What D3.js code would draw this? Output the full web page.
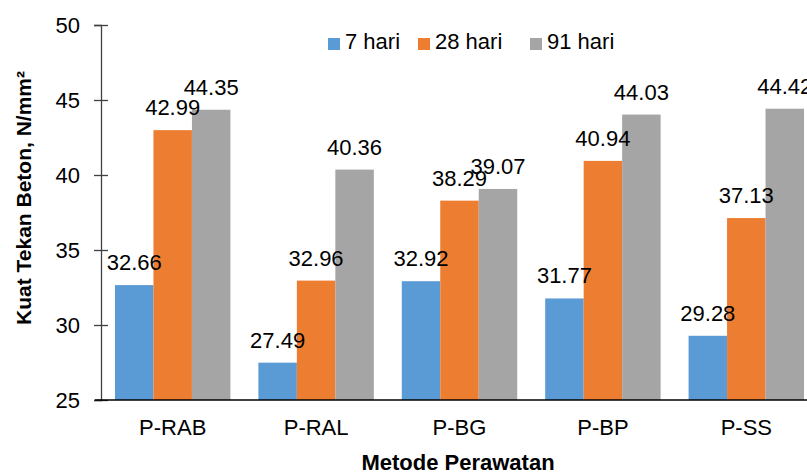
<!DOCTYPE html>
<html>
<head>
<meta charset="utf-8">
<script src="https://cdn.jsdelivr.net/npm/d3@7"></script>
<style>
  body { margin: 0; background: #fff; }
  svg { display: block; font-family: Arial, 'Liberation Sans', sans-serif; }
</style>
</head>
<body>
<svg width="807" height="473"></svg>
<script>
const categories = ['P-RAB', 'P-RAL', 'P-BG', 'P-BP', 'P-SS']
const seriesNames = ['7 hari', '28 hari', '91 hari']
const hari7 = [32.66, 27.49, 32.92, 31.77, 29.28]
const hari28 = [42.99, 32.96, 38.29, 40.94, 37.13]
const hari91 = [44.35, 40.36, 39.07, 44.03, 44.42]
const yTicks = [25, 30, 35, 40, 45, 50]
const colors = ['#5B9BD5', '#ED7D31', '#A5A5A5']

const seriesValues = [hari7, hari28, hari91]
const data = categories.map((c, i) => ({
	cat: c,
	vals: seriesNames.map((s, j) => ({ name: s, v: seriesValues[j][i], k: j }))
}))

const svg = d3.select('svg')

let xScale = d3.scaleBand()
	.domain(categories)
	.range([101, 818])
	.paddingInner(0.195)
	.paddingOuter(0.0975)

let xInner = d3.scaleBand()
	.domain(seriesNames)
	.range([0, xScale.bandwidth()])

let yScale = d3.scaleLinear()
	.domain([25, 50])
	.range([400, 25])

// bars
let groups = svg.append('g').attr('id', 'bars')
	.selectAll('g')
	.data(data)
	.enter().append('g')
	.attr('transform', d => `translate(${xScale(d.cat)},0)`)

groups.selectAll('rect')
	.data(d => d.vals)
	.enter().append('rect')
	.attr('x', d => xInner(d.name))
	.attr('width', xInner.bandwidth())
	.attr('y', d => yScale(d.v))
	.attr('height', d => yScale(25) - yScale(d.v))
	.attr('fill', d => colors[d.k])

// value labels
groups.selectAll('text')
	.data(d => d.vals)
	.enter().append('text')
	.attr('x', d => xInner(d.name) + xInner.bandwidth() / 2)
	.attr('y', d => yScale(d.v) - 15)
	.attr('text-anchor', 'middle')
	.attr('font-size', 22)
	.attr('fill', '#000')
	.text(d => d.v.toFixed(2))

// y axis
let leftAxisG = svg.append('g')
	.attr('transform', 'translate(101,0)')
	.call(d3.axisLeft(yScale).tickValues(yTicks).tickSize(7).tickPadding(14))
leftAxisG.select('.domain').attr('stroke', '#404040').attr('stroke-width', 1.3)
leftAxisG.selectAll('.tick line').attr('x1', 7).attr('stroke', '#404040').attr('stroke-width', 1.3)
leftAxisG.selectAll('.tick text')
	.attr('font-size', 22)
	.attr('font-family', "Arial, 'Liberation Sans', sans-serif")
	.attr('fill', '#000')

// x axis
let bottomAxisG = svg.append('g')
	.attr('transform', 'translate(0,400)')
	.call(d3.axisBottom(xScale).tickSize(0).tickPadding(19))
bottomAxisG.select('.domain').attr('d', 'M95,0H807').attr('stroke', '#000').attr('stroke-width', 1.3)
bottomAxisG.selectAll('.tick text')
	.attr('font-size', 22)
	.attr('font-family', "Arial, 'Liberation Sans', sans-serif")
	.attr('fill', '#000')

// axis titles
svg.append('text')
	.attr('x', 458)
	.attr('y', 470)
	.attr('text-anchor', 'middle')
	.attr('font-size', 22)
	.attr('font-weight', 'bold')
	.text('Metode Perawatan')

svg.append('text')
	.attr('transform', 'translate(31,198) rotate(-90)')
	.attr('text-anchor', 'middle')
	.attr('font-size', 21)
	.attr('font-weight', 'bold')
	.text('Kuat Tekan Beton, N/mm²')

// legend
let legendX = [328, 418, 530]
let legend = svg.append('g').selectAll('g')
	.data(seriesNames)
	.enter().append('g')
	.attr('transform', (d, i) => `translate(${legendX[i]},38)`)
legend.append('rect')
	.attr('width', 12).attr('height', 12)
	.attr('fill', (d, i) => colors[i])
legend.append('text')
	.attr('x', 17)
	.attr('y', 11)
	.attr('font-size', 22)
	.text(d => d)
</script>
</body>
</html>
